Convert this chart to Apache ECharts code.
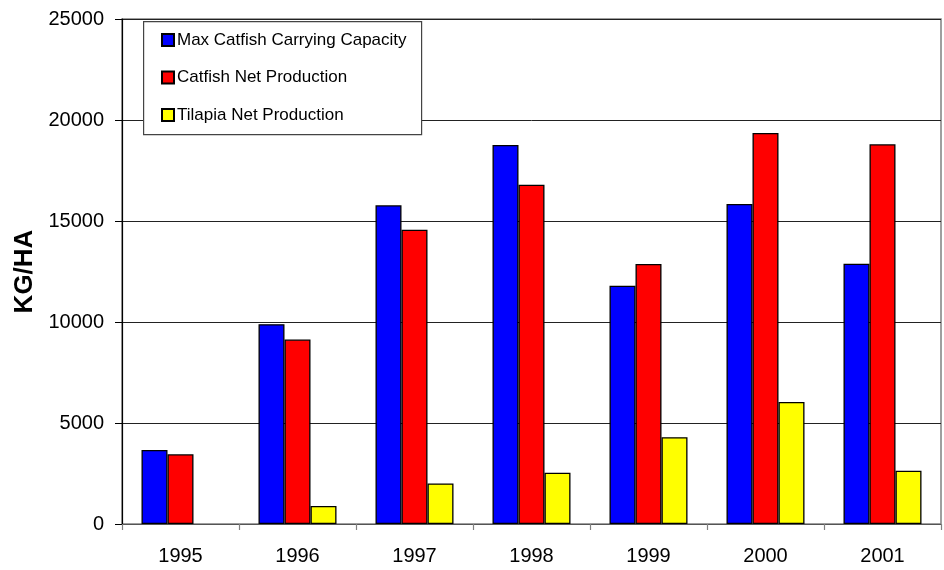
<!DOCTYPE html>
<html>
<head>
<meta charset="utf-8">
<script src="https://cdn.jsdelivr.net/npm/echarts@6/dist/echarts.min.js"></script>
<style>
html,body{margin:0;padding:0;background:#fff;}
#chart{width:944px;height:570px;}
</style>
</head>
<body>
<div id="chart"></div>
<script>
var categories = ['1995','1996','1997','1998','1999','2000','2001'];
var seriesNames = ['Max Catfish Carrying Capacity','Catfish Net Production','Tilapia Net Production'];
var maxCatfish = [3660, 9890, 15780, 18760, 11800, 15840, 12880];
var catfishNet = [3450, 9130, 14570, 16800, 12870, 19360, 18800];
var tilapiaNet = [0, 890, 2010, 2540, 4300, 6040, 2640];
var yTicks = {min: 0, max: 25000, interval: 5000};
var colors = ['#0000ff', '#ff0000', '#ffff00'];

var FONT = "'Liberation Sans', Arial, sans-serif";
var chart = echarts.init(document.getElementById('chart'));
var values = [maxCatfish, catfishNet, tilapiaNet];
chart.setOption({
  animation: false,
  backgroundColor: '#ffffff',
  grid: {left: 122, right: 3, top: 19, bottom: 46, show: true, borderColor: '#808080', borderWidth: 1.5,
         backgroundColor: 'transparent', containLabel: false, outerBoundsMode: 'none'},
  graphic: [{
    type: 'rect', left: 143, top: 21, z: 10,
    shape: {width: 278, height: 113},
    style: {fill: '#ffffff', stroke: '#444444', lineWidth: 1.2}
  }],
  legend: {
    orient: 'vertical', left: 161, top: 31, z: 20,
    padding: 0,
    itemWidth: 12, itemHeight: 12, itemGap: 19.5,
    icon: 'rect',
    data: seriesNames,
    textStyle: {fontFamily: FONT, fontSize: 17, color: '#000', lineHeight: 18, padding: [0,0,0,-2]}
  },
  xAxis: {
    type: 'category', data: categories,
    axisLine: {lineStyle: {color: '#555555', width: 1.2}},
    axisTick: {show: true, length: 6, lineStyle: {color: '#808080', width: 1.2}},
    axisLabel: {fontFamily: FONT, fontSize: 20, color: '#000', margin: 22, lineHeight: 20},
    splitLine: {show: false}
  },
  yAxis: {
    type: 'value', min: yTicks.min, max: yTicks.max, interval: yTicks.interval,
    name: 'KG/HA', nameLocation: 'middle', nameGap: 80,
    nameTextStyle: {fontFamily: FONT, fontWeight: 'bold', fontSize: 26, color: '#000'},
    axisLine: {show: true, lineStyle: {color: '#000', width: 1.2}},
    axisTick: {show: true, length: 7, lineStyle: {color: '#000', width: 1}},
    axisLabel: {fontFamily: FONT, fontSize: 20, color: '#000', margin: 18,
                formatter: function (v) { return String(v); }},
    splitLine: {show: true, lineStyle: {color: '#222', width: 1}}
  },
  series: seriesNames.map(function (name, i) {
    return {
      name: name, type: 'bar',
      data: values[i].map(function (v) {
        return v === 0 ? {value: v, itemStyle: {borderWidth: 0}} : v;
      }),
      barWidth: 26, barGap: '0%',
      itemStyle: {color: colors[i], borderColor: '#000', borderWidth: 1.3}
    };
  })
});
</script>
</body>
</html>
